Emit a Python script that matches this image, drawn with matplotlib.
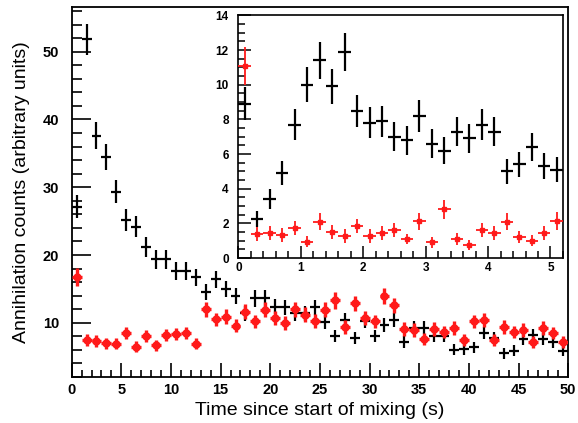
import numpy as np
import matplotlib
matplotlib.use("Agg")
import matplotlib.pyplot as plt
from matplotlib.ticker import MultipleLocator

plt.rcParams['font.family'] = ['Liberation Sans', 'DejaVu Sans']

# --- main panel: 1 s bins -----------------------------------------------------
t_main = np.arange(0.5, 50, 1.0)
black_main = [27.1, 51.8, 37.6, 34.5, 29.3, 25.2, 24.2, 21.2, 19.4, 19.4,
              17.6, 17.6, 16.7, 14.5, 16.4, 15.0, 14.0, 11.4, 13.6, 13.6,
              12.4, 12.3, 11.4, 11.4, 12.3, 10.1, 8.0, 10.4, 7.7, 10.3,
              8.1, 9.7, 10.4, 7.2, 9.2, 9.3, 8.0, 8.0, 6.0, 6.1,
              6.4, 8.5, 7.8, 5.5, 5.9, 7.6, 8.2, 7.6, 7.2, 5.9]
black_main_err = [1.7, 2.3, 2.0, 1.9, 1.7, 1.6, 1.6, 1.5, 1.4, 1.4,
                  1.3, 1.3, 1.3, 1.2, 1.3, 1.2, 1.2, 1.1, 1.2, 1.2,
                  1.1, 1.1, 1.1, 1.1, 1.1, 1.0, 0.9, 1.0, 0.9, 1.0,
                  0.9, 1.0, 1.0, 0.9, 1.0, 1.0, 0.9, 0.9, 0.8, 0.8,
                  0.8, 0.9, 0.9, 0.8, 0.8, 0.9, 0.9, 0.9, 0.9, 0.8]
red_main = [16.8, 7.5, 7.3, 7.0, 6.9, 8.5, 6.5, 8.1, 6.7, 8.2,
            8.3, 8.5, 6.9, 12.0, 10.5, 10.9, 9.6, 11.6, 10.2, 11.9,
            10.7, 10.0, 12.0, 11.2, 10.3, 11.9, 13.3, 9.4, 12.9, 10.7,
            10.2, 13.9, 12.6, 9.1, 8.9, 7.6, 9.1, 8.7, 9.2, 7.5,
            10.2, 10.4, 7.5, 9.4, 8.7, 8.9, 7.2, 9.2, 8.5, 7.2]
red_main_err = [1.3, 0.9, 0.9, 0.8, 0.8, 0.9, 0.8, 0.9, 0.8, 0.9,
                0.9, 0.9, 0.8, 1.1, 1.0, 1.1, 1.0, 1.1, 1.0, 1.1,
                1.0, 1.0, 1.1, 1.1, 1.0, 1.1, 1.2, 1.0, 1.1, 1.0,
                1.0, 1.2, 1.1, 1.0, 1.0, 0.9, 1.0, 0.9, 1.0, 0.9,
                1.0, 1.0, 0.9, 1.0, 0.9, 1.0, 0.9, 1.0, 0.9, 0.9]

# --- inset: 0.2 s bins --------------------------------------------------------
t_ins = np.arange(0.1, 5.2, 0.2)
black_ins = [8.9, 2.25, 3.4, 4.9, 7.7, 10.0, 11.4, 9.9, 11.9, 8.5,
             7.8, 7.9, 7.0, 6.8, 8.2, 6.6, 6.2, 7.3, 6.9, 7.7,
             7.3, 5.0, 5.4, 6.4, 5.3, 5.1]
black_ins_err = [0.95, 0.48, 0.59, 0.71, 0.89, 1.0, 1.08, 1.0, 1.1, 0.93,
                 0.89, 0.9, 0.85, 0.83, 0.92, 0.82, 0.8, 0.86, 0.84, 0.89,
                 0.86, 0.72, 0.74, 0.81, 0.74, 0.72]
red_ins = [11.1, 1.37, 1.47, 1.31, 1.75, 0.95, 2.1, 1.52, 1.29, 1.85,
           1.29, 1.43, 1.62, 1.1, 2.12, 0.91, 2.83, 1.08, 0.74, 1.62,
           1.43, 2.1, 1.2, 1.0, 1.43, 2.14]
red_ins_err = [1.1, 0.4, 0.4, 0.4, 0.4, 0.3, 0.5, 0.4, 0.4, 0.4,
               0.4, 0.4, 0.4, 0.3, 0.5, 0.3, 0.55, 0.35, 0.3, 0.4,
               0.4, 0.5, 0.35, 0.32, 0.4, 0.5]

RED = "#ff1a1a"

fig = plt.figure(figsize=(5.78, 4.23), dpi=100)
ax = fig.add_axes([0.124, 0.1087, 0.859, 0.875])

ax.errorbar(t_main, black_main, xerr=0.5, yerr=black_main_err, fmt='none',
            ecolor='black', elinewidth=1.6, capsize=0, zorder=3)
ax.errorbar(t_main, red_main, xerr=0.5, yerr=red_main_err, fmt='o',
            color=RED, ms=5, ecolor=RED, elinewidth=2.4, capsize=0, zorder=4)

ax.set_xlim(0, 50)
ax.set_ylim(2.0, 56.6)
ax.xaxis.set_major_locator(MultipleLocator(5))
ax.xaxis.set_minor_locator(MultipleLocator(1))
ax.yaxis.set_major_locator(MultipleLocator(10))
ax.yaxis.set_minor_locator(MultipleLocator(2))
ax.tick_params(which='both', direction='in', top=False, right=False, width=1.2)
ax.tick_params(axis='y', which='major', length=14, pad=9)
ax.tick_params(axis='y', which='minor', length=7)
ax.tick_params(axis='x', which='major', length=10, pad=4)
ax.tick_params(axis='x', which='minor', length=5)
for lab in ax.get_xticklabels() + ax.get_yticklabels():
    lab.set_fontweight('bold'); lab.set_fontsize(10.5)
for sp in ax.spines.values():
    sp.set_linewidth(1.3)
ax.set_xlabel("Time since start of mixing (s)", fontsize=14, labelpad=4)
ax.set_ylabel("Annihilation counts (arbitrary units)", fontsize=14, labelpad=9)

# inset
axi = fig.add_axes([0.4126, 0.3898, 0.5614, 0.5738])
axi.errorbar(t_ins, black_ins, xerr=0.1, yerr=black_ins_err, fmt='none',
             ecolor='black', elinewidth=1.6, capsize=0, zorder=3)
axi.errorbar(t_ins, red_ins, xerr=0.1, yerr=red_ins_err, fmt='s',
             color=RED, ms=2.5, ecolor=RED, elinewidth=1.3, capsize=0, zorder=4)
axi.set_xlim(0, 5.2)
axi.set_ylim(0, 14)
axi.xaxis.set_major_locator(MultipleLocator(1))
axi.xaxis.set_minor_locator(MultipleLocator(0.2))
axi.yaxis.set_major_locator(MultipleLocator(2))
axi.yaxis.set_minor_locator(MultipleLocator(0.5))
axi.tick_params(which='both', direction='in', top=False, right=False, width=1.1)
axi.tick_params(which='major', length=9)
axi.tick_params(which='minor', length=5)
axi.tick_params(axis='y', pad=7)
axi.tick_params(axis='x', pad=3)
for lab in axi.get_xticklabels() + axi.get_yticklabels():
    lab.set_fontweight('bold'); lab.set_fontsize(8.5)
for sp in axi.spines.values():
    sp.set_linewidth(1.2)

fig.savefig("out.png", dpi=100)
